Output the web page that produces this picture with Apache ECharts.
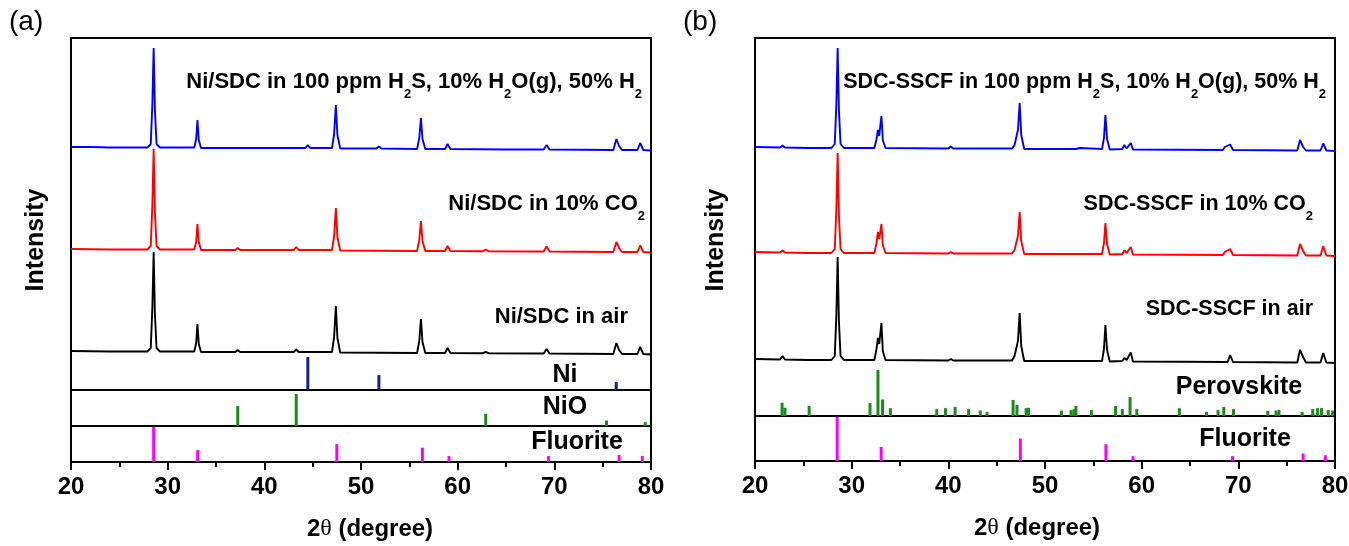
<!DOCTYPE html>
<html>
<head>
<meta charset="utf-8">
<title>XRD</title>
<script src="https://cdn.jsdelivr.net/npm/echarts@6/dist/echarts.min.js"></script>
<style>
  html, body { margin: 0; padding: 0; background: #fff; }
  #main { width: 1349px; height: 546px; }
</style>
</head>
<body>
<div id="main"></div>
<script>
// 2theta range and tick labels
var xTicks = [20, 30, 40, 50, 60, 70, 80];

// panel (a) traces, [2theta, intensity above own baseline]
var aH2S = [
  [20,1],[22,1],[24,0.5],[26,0.5],[27.9,0.5],[28.25,4],[28.42,45],[28.55,100],[28.68,38],[28.85,4],[29.2,0.5],
  [31,0.5],[32.75,0.5],[32.95,9],[33.08,28],[33.22,8],[33.45,0],
  [36,0],[40,0],[44.25,0],[44.5,3],[44.75,0],
  [47.0,0],[47.22,14],[47.4,43],[47.56,13],[47.85,-0.5],
  [51.6,-0.5],[51.85,1.5],[52.1,-0.5],
  [55.8,-1],[56.03,10],[56.2,30],[56.36,9],[56.65,-1],
  [58.7,-1],[58.95,4],[59.25,-1],
  [65,-1.5],[68.9,-1.5],[69.2,3],[69.5,-1.5],
  [76.1,-2],[76.42,9],[76.7,2],[77.0,-2],
  [78.6,-2],[78.88,5],[79.2,-2],[80,-2.5]
];
var aCO2 = [
  [20,1],[24,0.5],[27.9,0.5],[28.25,4],[28.42,46],[28.55,101],[28.68,38],[28.85,4],[29.2,0.5],
  [32.75,0.5],[32.95,8],[33.08,26],[33.22,8],[33.45,0],
  [37.0,0],[37.25,2],[37.5,0],
  [43.05,0],[43.3,3],[43.55,0],
  [47.0,0],[47.22,14],[47.4,42],[47.56,13],[47.85,-0.5],
  [55.8,-1],[56.03,10],[56.2,29],[56.36,9],[56.65,-1],
  [58.7,-1],[58.95,4],[59.25,-1],
  [62.6,-1.2],[62.9,0.5],[63.2,-1.2],
  [68.9,-1.5],[69.2,3.5],[69.5,-1.5],
  [76.1,-2],[76.42,8],[76.7,2],[77.0,-2],
  [78.6,-2],[78.88,4.5],[79.2,-2],[80,-2.5]
];
var aAir = [
  [20,1],[24,0.5],[27.9,0.5],[28.25,4],[28.42,45],[28.55,100],[28.68,38],[28.85,4],[29.2,0.5],
  [32.75,0.5],[32.95,9],[33.08,28],[33.22,8],[33.45,0],
  [37.0,0],[37.25,2],[37.5,0],
  [43.05,0],[43.3,2.5],[43.55,0],
  [47.0,0],[47.22,15],[47.4,46],[47.56,14],[47.85,-0.5],
  [55.8,-1],[56.03,11],[56.2,33],[56.36,10],[56.65,-1],
  [58.7,-1],[58.95,4],[59.25,-1],
  [62.6,-1.2],[62.9,0],[63.2,-1.2],
  [68.9,-1.5],[69.2,3],[69.5,-1.5],
  [76.1,-2],[76.42,9],[76.7,2],[77.0,-2],
  [78.6,-2],[78.88,5],[79.2,-2],[80,-2.5]
];

// panel (b) traces
var bH2S = [
  [20,1],[22.6,0.5],[22.85,2.5],[23.1,0.5],[25.4,0],[25.6,1],[25.8,0],
  [27.9,0],[28.25,4],[28.42,45],[28.55,100],[28.68,38],[28.85,4],[29.2,0],
  [32.35,0],[32.55,8],[32.72,18],[32.85,12],[32.98,24],[33.08,32],[33.22,8],[33.5,0],
  [40.0,-0.5],[40.25,1.5],[40.5,-0.5],
  [46.6,-0.5],[46.85,3],[47.0,4],[47.2,18],[47.38,45],[47.54,13],[47.85,-1],
  [52.8,-1],[53.0,0.5],[53.2,-1],[53.6,0],[53.8,-1],
  [55.9,-1],[56.1,10],[56.25,33],[56.42,9],[56.7,-1.5],
  [58.0,-1],[58.2,3],[58.45,-0.5],[58.65,0],[58.87,5],[59.1,-1.5],
  [68.4,-2],[68.6,1],[68.8,-1],[69.15,3.5],[69.45,-2],
  [76.1,-2.5],[76.38,8],[76.7,1],[77.0,-2.5],
  [78.5,-2.5],[78.78,4.5],[79.1,-2.5],[80,-3]
];
var bCO2 = [
  [20,1],[22.6,0.5],[22.85,2.5],[23.1,0.5],[25.4,0],[25.6,1],[25.8,0],
  [27.9,0],[28.25,4],[28.42,45],[28.55,100],[28.68,38],[28.85,4],[29.2,0],
  [32.35,0],[32.55,9],[32.72,21],[32.85,14],[32.98,22],[33.08,29],[33.22,8],[33.5,0],
  [40.0,-0.5],[40.25,1],[40.5,-0.5],
  [46.6,-0.5],[46.85,3],[47.0,4],[47.2,17],[47.38,41],[47.54,12],[47.85,-1],
  [52.8,-1],[53.0,0.5],[53.2,-1],
  [55.9,-1],[56.1,10],[56.25,30],[56.42,9],[56.7,-1.5],
  [58.0,-1],[58.2,2.5],[58.45,0],[58.65,1],[58.87,6],[59.1,-1.5],
  [68.4,-2],[68.6,1],[68.8,-1],[69.15,4],[69.45,-2],
  [76.1,-2.5],[76.38,9],[76.7,2],[77.0,-2.5],
  [78.5,-2.5],[78.78,7],[79.1,-2.5],[80,-3]
];
var bAir = [
  [20,1],[22.6,0.5],[22.85,4],[23.1,0.5],[25.4,0],[25.6,1.5],[25.8,0],
  [27.9,0],[28.25,4],[28.42,46],[28.55,103],[28.68,39],[28.85,4],[29.2,0],
  [32.35,0],[32.55,10],[32.72,22],[32.85,16],[32.98,28],[33.08,37],[33.22,9],[33.5,0],
  [40.0,-0.5],[40.25,1],[40.5,-0.5],
  [46.6,-0.5],[46.85,4],[47.0,5],[47.2,19],[47.38,47],[47.54,14],[47.85,-1],
  [53.4,-1],[53.6,0.5],[53.8,-1],
  [55.9,-1],[56.1,11],[56.25,35],[56.42,10],[56.7,-1.5],
  [58.0,-1],[58.2,2],[58.45,0],[58.65,1.5],[58.87,7.5],[59.1,-1.5],
  [68.9,-2],[69.15,5],[69.45,-2],
  [76.1,-2.5],[76.38,10],[76.7,3],[77.0,-2.5],
  [78.5,-2.5],[78.78,7],[79.1,-2.5],[80,-3]
];

// reference patterns (relative intensity, tallest = 100)
var niSticks = [[44.5,100],[51.85,45],[76.4,24]];
var nioSticks = [[37.25,62],[43.3,100],[62.9,38],[75.4,17],[79.4,12]];
var aFluorite = [[28.55,100],[33.1,34],[47.5,51],[56.35,41],[59.1,17],[69.4,17],[76.7,20],[79.1,17]];
var perovSticks = [
  [22.8,29],[23.1,18],[25.6,22],[31.9,28],[32.72,100],[33.2,36],[34.0,17],
  [38.8,15],[39.7,17],[40.7,20],[42.1,15],[43.3,12],[44.0,9],
  [46.7,35],[47.1,24],[48.05,17],[48.3,18],[51.7,12],[52.7,13],[53.0,15],[53.2,22],
  [54.8,13],[57.3,22],[58.0,15],[58.8,41],[59.5,15],[63.9,17],[66.7,9],[67.9,13],
  [68.5,20],[69.5,15],[73.05,11],[73.9,12],[74.2,13],[76.6,9],[77.7,15],[78.2,17],
  [78.6,17],[79.3,13],[79.75,12]
];
var bFluorite = [[28.5,100],[33.05,32],[47.45,51],[56.3,38],[59.1,11],[69.4,11],[76.7,17],[79.0,13]];

var FONT = 'Liberation Sans';

function grid(left, top, height, border) {
  return {
    left: left, top: top, width: 580, height: height,
    containLabel: false, outerBoundsMode: 'none',
    show: border, borderColor: '#000', borderWidth: 2, backgroundColor: 'transparent'
  };
}

function hiddenX(gi) {
  return { type: 'value', gridIndex: gi, min: 20, max: 80, interval: 10, show: false };
}

function bottomX(gi, pad) {
  return {
    type: 'value', gridIndex: gi, min: xTicks[0], max: xTicks[xTicks.length - 1], interval: 10,
    axisLine: { show: true, lineStyle: { color: '#000', width: 2 } },
    axisTick: { show: true, length: 8, lineStyle: { color: '#000', width: 2 } },
    minorTick: { show: true, splitNumber: 2, length: 5, lineStyle: { color: '#000', width: 2 } },
    splitLine: { show: false },
    minorSplitLine: { show: false },
    axisLabel: { color: '#000', fontSize: 24, fontWeight: 'bold', fontFamily: FONT, margin: 13 },
    name: '{n|2}{t|θ}{n| (degree)}',
    nameLocation: 'middle',
    nameGap: 55,
    nameTextStyle: {
      padding: pad,
      rich: {
        n: { fontSize: 24, fontWeight: 'bold', fontFamily: FONT, color: '#000' },
        t: { fontSize: 24, fontWeight: 'normal', fontFamily: 'Liberation Serif', color: '#000' }
      }
    }
  };
}

function yAx(gi, min, max) {
  return { type: 'value', gridIndex: gi, min: min, max: max, show: false };
}

function trace(xi, yi, data, color) {
  return {
    type: 'line', xAxisIndex: xi, yAxisIndex: yi, data: data,
    showSymbol: false, symbol: 'none', smooth: false,
    lineStyle: { color: color, width: 1.9 }, z: 3
  };
}

function sticks(xi, yi, data, color) {
  return {
    type: 'bar', xAxisIndex: xi, yAxisIndex: yi, data: data,
    barWidth: 3, itemStyle: { color: color }, z: 3
  };
}

function subRich(size) {
  return {
    m: { fontSize: size, fontWeight: 'bold', fontFamily: FONT, lineHeight: 24, verticalAlign: 'top', fill: '#000' },
    s: { fontSize: 13, fontWeight: 'bold', fontFamily: FONT, lineHeight: 13, padding: [17, 0, 0, 0], verticalAlign: 'top', fill: '#000' }
  };
}

function note(text, right, top, size) {
  return {
    type: 'text', x: right, y: top, z: 10,
    style: { text: text, rich: subRich(size), align: 'right', verticalAlign: 'top', fill: '#000' }
  };
}

function label(text, cx, cy) {
  return {
    type: 'text', x: cx, y: cy, z: 10,
    style: { text: text, font: 'bold 25px "Liberation Sans"', fill: '#000', align: 'center', verticalAlign: 'middle' }
  };
}

function intensity(cx) {
  return {
    type: 'text', x: cx, y: 240, rotation: Math.PI / 2, z: 10,
    style: { text: 'Intensity', font: 'bold 25px "Liberation Sans"', fill: '#000', align: 'center', verticalAlign: 'middle' }
  };
}

var chart = echarts.init(document.getElementById('main'));

chart.setOption({
  animation: false,
  backgroundColor: '#fff',
  grid: [
    grid(71, 38, 352, true),   // a main
    grid(71, 352, 38, false),  // a Ni
    grid(71, 390, 36, true),   // a NiO
    grid(71, 426, 36, true),   // a Fluorite
    grid(755, 38, 378, true),  // b main
    grid(755, 360, 56, false), // b Perovskite
    grid(755, 416, 45, true)   // b Fluorite
  ],
  xAxis: [
    hiddenX(0), hiddenX(1), hiddenX(2), bottomX(3, [0, 0, 0, 18]),
    hiddenX(4), hiddenX(5), bottomX(6, [0, 16, 0, 0])
  ],
  yAxis: [
    yAx(0, -242, 110), yAx(0, -140, 212), yAx(0, -38, 314),
    yAx(1, 0, 115), yAx(2, 0, 112), yAx(3, 0, 103),
    yAx(4, -268, 110), yAx(4, -163, 215), yAx(4, -56, 322),
    yAx(5, 0, 122), yAx(6, 0, 102)
  ],
  series: [
    trace(0, 0, aH2S, '#0000ff'),
    trace(0, 1, aCO2, '#ff0000'),
    trace(0, 2, aAir, '#000000'),
    sticks(1, 3, niSticks, '#1c1c8e'),
    sticks(2, 4, nioSticks, '#1b8a1b'),
    sticks(3, 5, aFluorite, '#ff00ff'),
    trace(4, 6, bH2S, '#0000ff'),
    trace(4, 7, bCO2, '#ff0000'),
    trace(4, 8, bAir, '#000000'),
    sticks(5, 9, perovSticks, '#1b8a1b'),
    sticks(6, 10, bFluorite, '#ff00ff')
  ],
  graphic: [
    { type: 'text', x: 9, y: 8, style: { text: '(a)', font: '28px "Liberation Sans"', fill: '#000' } },
    { type: 'text', x: 683, y: 8, style: { text: '(b)', font: '28px "Liberation Sans"', fill: '#000' } },
    intensity(36),
    intensity(716),
    note('{m|Ni/SDC in 100 ppm H}{s|2}{m|S, 10% H}{s|2}{m|O(g), 50% H}{s|2}', 642, 71, 22),
    note('{m|Ni/SDC in 10% CO}{s|2}', 645, 193, 22),
    note('{m|Ni/SDC in air}', 628, 306, 22),
    label('Ni', 565, 375),
    label('NiO', 565, 407),
    label('Fluorite', 577, 442),
    note('{m|SDC-SSCF in 100 ppm H}{s|2}{m|S, 10% H}{s|2}{m|O(g), 50% H}{s|2}', 1326, 71, 21.5),
    note('{m|SDC-SSCF in 10% CO}{s|2}', 1313, 193, 21.5),
    note('{m|SDC-SSCF in air}', 1313, 298, 21.5),
    label('Perovskite', 1239, 387),
    label('Fluorite', 1245, 439)
  ]
});
</script>
</body>
</html>
